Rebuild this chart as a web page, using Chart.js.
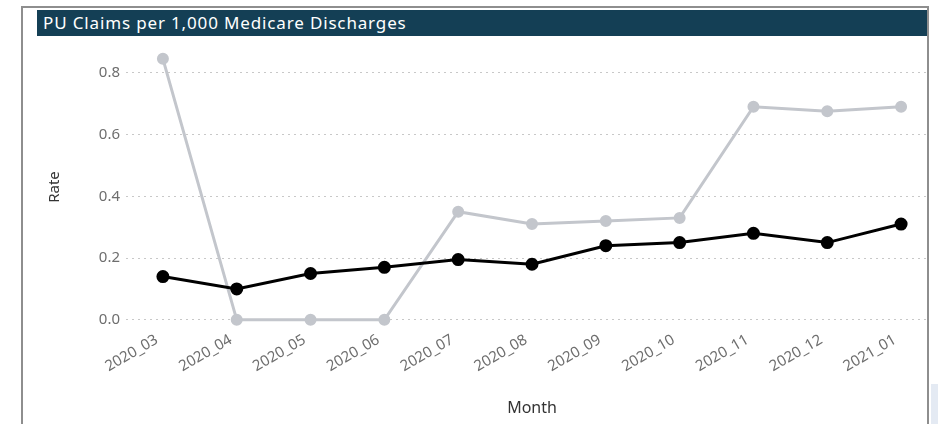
<!DOCTYPE html>
<html>
<head>
<meta charset="utf-8">
<script src="https://cdn.jsdelivr.net/npm/chart.js@4/dist/chart.umd.min.js"></script>
<style>
  body { margin: 0; background: #fff; width: 938px; height: 424px; overflow: hidden; position: relative; font-family: "Noto Sans", sans-serif; }
  #panel { position: absolute; left: 21px; top: 6px; width: 904px; height: 440px; border: 2px solid #8e8e8e; overflow: hidden; background: #fff; }
  #title { position: absolute; left: 14px; top: 2px; right: 0; height: 26px; background: #143f55; color: #fff; font-size: 17px; letter-spacing: 0.85px; line-height: 26px; padding-left: 6px; }
  #wrap { position: absolute; left: 10px; top: 32px; width: 913px; height: 390px; }
  .deco { position: absolute; background: #e4eaf3; }
</style>
</head>
<body>
<div class="deco" style="left:931px; top:384px; width:7px; height:40px;"></div>
<div id="panel">
  <div id="title">PU Claims per 1,000 Medicare Discharges</div>
  <div id="wrap"><canvas id="chart" width="913" height="390"></canvas></div>
</div>
<script>
// data
let months = ['2020_03', '2020_04', '2020_05', '2020_06', '2020_07', '2020_08',
              '2020_09', '2020_10', '2020_11', '2020_12', '2021_01']
let rateA = [0.14, 0.10, 0.15, 0.17, 0.195, 0.18, 0.24, 0.25, 0.28, 0.25, 0.31]
let rateB = [0.845, 0, 0, 0, 0.35, 0.31, 0.32, 0.33, 0.69, 0.675, 0.69]
let yTicks = [0, 0.2, 0.4, 0.6, 0.8]

let ctx = document.getElementById('chart').getContext('2d')

let chart = new Chart(ctx, {
    type: 'line',
    data: {
        labels: months,
        datasets: [{
            label: 'Rate',
            data: rateA,
            borderColor: '#000',
            backgroundColor: '#000',
            borderWidth: 3,
            pointRadius: 5,
            tension: 0
        }, {
            label: 'Rate (comparison)',
            data: rateB,
            borderColor: '#c3c6cc',
            backgroundColor: '#c3c6cc',
            borderWidth: 3,
            pointRadius: 4.5,
            tension: 0
        }]
    },
    options: {
        responsive: false,
        animation: false,
        layout: { padding: { top: 6, right: 0, bottom: 0, left: 0 } },
        plugins: { legend: { display: false }, tooltip: { enabled: false } },
        scales: {
            x: {
                offset: true,
                grid: { display: false, drawTicks: false },
                border: { display: false },
                afterFit: scale => {
                    scale.height = 104
                    scale.paddingLeft = 0
                    scale.paddingRight = 0
                },
                ticks: {
                    minRotation: 30, maxRotation: 30, padding: 5,
                    labelOffset: -6,
                    color: '#6e6e6e',
                    font: { family: 'Noto Sans', size: 15 }
                },
                title: {
                    display: true, text: 'Month', color: '#333',
                    font: { family: 'Noto Sans', size: 16 },
                    padding: { top: 0, bottom: 12 }
                }
            },
            y: {
                min: -0.02,
                max: 0.88,
                afterFit: scale => {
                    scale.width = 93
                    scale.paddingTop = 0
                    scale.paddingBottom = 0
                },
                afterBuildTicks: scale => { scale.ticks = yTicks.map(v => ({ value: v })) },
                grid: { color: '#c8c8c8', lineWidth: 1, drawTicks: false },
                border: { display: false, dash: [2, 4] },
                ticks: {
                    padding: 6,
                    color: '#6e6e6e',
                    font: { family: 'Noto Sans', size: 15 },
                    callback: v => v.toFixed(1)
                },
                title: {
                    display: true, text: 'Rate', color: '#333',
                    font: { family: 'Noto Sans', size: 15 },
                    padding: { top: 13, bottom: 0 }
                }
            }
        }
    }
})
</script>
</body>
</html>
